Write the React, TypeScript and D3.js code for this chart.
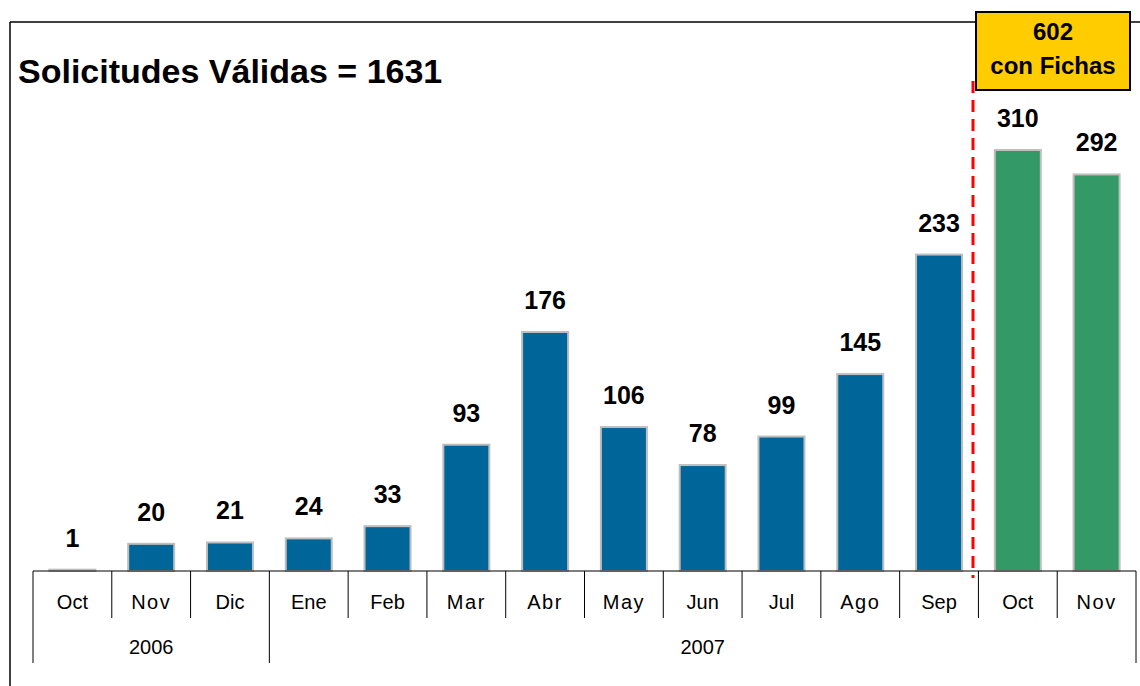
import React from "react";
import * as d3 from "d3";

const months = ["Oct", "Nov", "Dic", "Ene", "Feb", "Mar", "Abr", "May", "Jun", "Jul", "Ago", "Sep", "Oct", "Nov"];
const values = [1, 20, 21, 24, 33, 93, 176, 106, 78, 99, 145, 233, 310, 292];
const years = [
  { label: "2006", from: 0, to: 3 },
  { label: "2007", from: 3, to: 14 },
];
const fichasFrom = 12; // bars from this index on are "con Fichas"
const title = "Solicitudes Válidas = 1631";
const boxLines = ["602", "con Fichas"];

const W = 1140;
const H = 686;
const FONT = "'Liberation Sans', Arial, sans-serif";
const spaced = new Set(["Nov", "Mar", "Abr", "May", "Ago"]);

const App = () => {
  const x = d3
    .scaleBand<number>()
    .domain(values.map((v, i) => i))
    .range([33, 1136])
    .paddingInner(0)
    .paddingOuter(0);
  const y = d3.scaleLinear().domain([0, 310]).range([571, 150]);
  const bw = 46;
  const base = y(0);
  const step = x.step();

  return (
    <svg width={W} height={H} style={{ position: "absolute", left: 0, top: 0, background: "#fff" }}>
      {/* frame */}
      <line x1={10} y1={22} x2={W} y2={22} stroke="#000" strokeWidth={1.5} />
      <line x1={10} y1={22} x2={10} y2={H} stroke="#000" strokeWidth={1.5} />

      <text x={18} y={83} fontFamily={FONT} fontWeight="bold" fontSize={34} fill="#000">
        {title}
      </text>

      {/* bars */}
      {values.map((v, i) => {
        const cx = (x(i) as number) + step / 2;
        return (
          <g key={i}>
            <rect
              x={cx - bw / 2}
              y={y(v)}
              width={bw}
              height={base - y(v)}
              fill={i >= fichasFrom ? "#339966" : "#006699"}
              stroke="#BEBEBE"
              strokeWidth={2}
            />
            <text
              x={cx}
              y={y(v) - 23}
              textAnchor="middle"
              fontFamily={FONT}
              fontWeight="bold"
              fontSize={25}
              fill="#000"
            >
              {v}
            </text>
          </g>
        );
      })}

      {/* axis */}
      <line x1={33} y1={base} x2={1136} y2={base} stroke="#000" strokeWidth={1.2} />
      {d3.range(values.length + 1).map((i) => {
        const bx = 33 + i * step;
        const isYear = years.some((g) => g.from === i || g.to === i);
        return (
          <line key={i} x1={bx} y1={base} x2={bx} y2={isYear ? 663 : 618} stroke="#000" strokeWidth={1} />
        );
      })}
      {months.map((m, i) => (
        <text
          key={i}
          x={(x(i) as number) + step / 2}
          y={609}
          textAnchor="middle"
          fontFamily={FONT}
          fontSize={20}
          letterSpacing={spaced.has(m) ? 1.5 : 0}
          fill="#000"
        >
          {m}
        </text>
      ))}
      {years.map((g) => (
        <text
          key={g.label}
          x={33 + ((g.from + g.to) / 2) * step}
          y={654}
          textAnchor="middle"
          fontFamily={FONT}
          fontSize={20}
          fill="#000"
        >
          {g.label}
        </text>
      ))}

      {/* divider */}
      <line
        x1={973}
        y1={81}
        x2={973}
        y2={578}
        stroke="#FF0000"
        strokeWidth={3}
        strokeDasharray="12 7"
      />

      {/* box */}
      <rect x={976} y={12} width={154} height={78} fill="#FFCC00" stroke="#000" strokeWidth={2} />
      {boxLines.map((t, i) => (
        <text
          key={i}
          x={1053}
          y={40 + i * 34}
          textAnchor="middle"
          fontFamily={FONT}
          fontWeight="bold"
          fontSize={24}
          fill="#000"
        >
          {t}
        </text>
      ))}
    </svg>
  );
};

export default App;
